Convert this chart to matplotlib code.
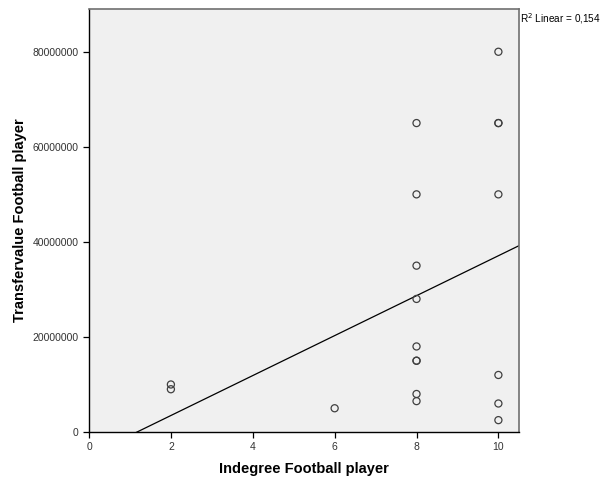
import matplotlib.pyplot as plt
import numpy as np

plt.rcParams['font.family'] = ['Liberation Sans', 'DejaVu Sans']

# data (x = indegree, y = transfer value)
indegree = [2, 2, 6, 8, 8, 8, 8, 8, 8, 8, 8, 8, 10, 10, 10, 10, 10, 10, 10]
transfervalue = [10000000, 9000000, 5000000,
                 65000000, 50000000, 35000000, 28000000, 18000000, 15000000, 15000000, 8000000, 6500000,
                 80000000, 65000000, 65000000, 50000000, 12000000, 6000000, 2500000]
r2_label = "0,154"

x = np.array(indegree, dtype=float)
y = np.array(transfervalue, dtype=float)

fig = plt.figure(figsize=(6.08, 4.78), dpi=100)
ax = fig.add_axes([0.1464, 0.0962, 0.707, 0.885])
ax.set_facecolor('#f0f0f0')

ax.scatter(x, y, s=26, facecolors='none', edgecolors='#404040', linewidths=0.9, zorder=3)

# linear fit line
slope, intercept = np.polyfit(x, y, 1)
xs = np.array([0, 10.5])
ax.plot(xs, slope * xs + intercept, color='black', linewidth=0.9, zorder=2)

ax.set_xlim(0, 10.5)
ax.set_ylim(0, 89000000)
ax.set_xticks([0, 2, 4, 6, 8, 10])
ax.set_yticks([0, 20000000, 40000000, 60000000, 80000000])
ax.set_yticklabels(['0', '20000000', '40000000', '60000000', '80000000'])
ax.tick_params(labelsize=7.5, colors='black', length=4, width=0.9, direction='out')
ax.tick_params(axis='both', labelcolor='#333333')

for s in ['left', 'bottom']:
    ax.spines[s].set_color('black')
    ax.spines[s].set_linewidth(1.0)
for s in ['top', 'right']:
    ax.spines[s].set_color('#707070')
    ax.spines[s].set_linewidth(1.2)

ax.set_xlabel('Indegree Football player', fontsize=10.5, fontweight='bold', labelpad=7)
ax.set_ylabel('Transfervalue Football player', fontsize=10.5, fontweight='bold', labelpad=4)

fig.text(0.8545, 0.962, 'R$^2$ Linear = ' + r2_label, fontsize=7.2, ha='left', va='center')

fig.savefig('out.png', dpi=100)
